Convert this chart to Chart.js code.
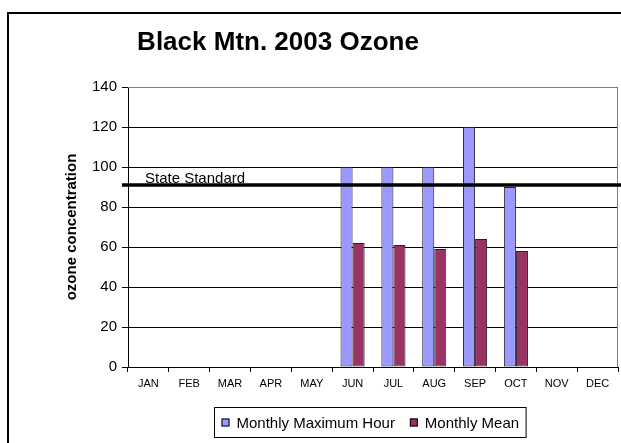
<!DOCTYPE html>
<html>
<head>
<meta charset="utf-8">
<script src="https://cdn.jsdelivr.net/npm/chart.js@4.4.1/dist/chart.umd.min.js"></script>
<style>
html, body { margin: 0; padding: 0; background: #fff; overflow: hidden; }
#wrap { position: relative; width: 621px; height: 443px; }
#frame { position: absolute; left: 7px; top: 12px; width: 700px; height: 500px; border-left: 2px solid #000; border-top: 2px solid #000; }
canvas { position: absolute; left: 0; top: 0; }
</style>
</head>
<body>
<div id="wrap">
  <div id="frame"></div>
  <canvas id="ozoneChart" width="621" height="443"></canvas>
</div>
<script>
const months = ['JAN', 'FEB', 'MAR', 'APR', 'MAY', 'JUN', 'JUL', 'AUG', 'SEP', 'OCT', 'NOV', 'DEC'];
const maxHour = [null, null, null, null, null, 100, 100, 100, 120, 90, null, null];
const monthlyMean = [null, null, null, null, null, 62, 61, 59, 64, 58, null, null];
const stateStandard = 91;
const yMax = 140;
const yStep = 20;

const chartTitle = 'Black Mtn. 2003 Ozone';
const yTitle = 'ozone concentration';
const standardLabel = 'State Standard';

const FONT = 'Arial, "Liberation Sans", sans-serif';

// title sits left of centre in the original, so draw it ourselves
const titlePlugin = {
    id: 'titlePlugin',
    afterDraw(chart) {
        const ctx = chart.ctx;
        ctx.save();
        ctx.font = 'bold 26px ' + FONT;
        ctx.fillStyle = '#000';
        ctx.textAlign = 'center';
        ctx.textBaseline = 'middle';
        ctx.fillText(chartTitle, 278, 43);
        ctx.restore();
    }
};

const plotBorder = {
    id: 'plotBorder',
    beforeDatasetsDraw(chart) {
        const a = chart.chartArea;
        const ctx = chart.ctx;
        ctx.save();
        ctx.strokeStyle = '#808080';
        ctx.lineWidth = 1;
        ctx.beginPath();
        ctx.moveTo(a.left, a.top + 0.5);
        ctx.lineTo(a.right - 0.5, a.top + 0.5);
        ctx.lineTo(a.right - 0.5, a.bottom);
        ctx.stroke();
        ctx.restore();
    }
};

const standardLine = {
    id: 'standardLine',
    afterDatasetsDraw(chart) {
        const y = chart.scales.y.getPixelForValue(stateStandard);
        const ctx = chart.ctx;
        ctx.save();
        ctx.strokeStyle = '#000';
        ctx.lineWidth = 3.5;
        ctx.beginPath();
        ctx.moveTo(chart.chartArea.left - 6, y);
        ctx.lineTo(chart.width, y);
        ctx.stroke();
        ctx.font = '15px ' + FONT;
        ctx.fillStyle = '#000';
        ctx.textAlign = 'left';
        ctx.textBaseline = 'alphabetic';
        ctx.fillText(standardLabel, 145, y - 2.5);
        ctx.restore();
    }
};

const boxedLegend = {
    id: 'boxedLegend',
    afterDraw(chart) {
        const ctx = chart.ctx;
        const sets = chart.data.datasets;
        ctx.save();
        ctx.font = '15px ' + FONT;
        const sw = 8, gap = 7, between = 15, padX = 7;
        let total = 0;
        sets.forEach((ds, i) => {
            total += sw + gap + ctx.measureText(ds.label).width;
            if (i < sets.length - 1) total += between;
        });
        const boxW = total + padX * 2;
        const cx = 370;
        const boxX = Math.round(cx - boxW / 2) + 0.5;
        const boxY = 407.5, boxH = 30;
        ctx.strokeStyle = '#000';
        ctx.lineWidth = 1;
        ctx.strokeRect(boxX, boxY, boxW, boxH);
        let x = boxX + padX;
        const cy = boxY + boxH / 2;
        sets.forEach(ds => {
            ctx.fillStyle = ds.backgroundColor;
            ctx.fillRect(x, cy - sw / 2, sw, sw);
            ctx.strokeStyle = '#000';
            ctx.strokeRect(x + 0.5, cy - sw / 2 + 0.5, sw - 1, sw - 1);
            x += sw + gap;
            ctx.fillStyle = '#000';
            ctx.textBaseline = 'middle';
            ctx.fillText(ds.label, x, cy + 1);
            x += ctx.measureText(ds.label).width + between;
        });
        ctx.restore();
    }
};

const ctx = document.getElementById('ozoneChart').getContext('2d');

const chart = new Chart(ctx, {
    type: 'bar',
    data: {
        labels: months,
        datasets: [{
            label: 'Monthly Maximum Hour',
            data: maxHour,
            backgroundColor: '#9999ff',
            borderColor: '#222',
            borderWidth: 1,
            borderSkipped: false
        }, {
            label: 'Monthly Mean',
            data: monthlyMean,
            backgroundColor: '#993366',
            borderColor: '#222',
            borderWidth: 1,
            borderSkipped: false
        }]
    },
    options: {
        responsive: false,
        animation: false,
        categoryPercentage: 0.59,
        barPercentage: 1,
        layout: {
            padding: { left: 0, top: 87, right: 3, bottom: 0 }
        },
        plugins: {
            legend: { display: false },
            title: { display: false },
            tooltip: { enabled: false }
        },
        scales: {
            x: {
                offset: true,
                grid: {
                    offset: true,
                    drawOnChartArea: false,
                    drawTicks: true,
                    tickLength: 5,
                    color: '#000'
                },
                border: { color: '#000', width: 1 },
                ticks: {
                    color: '#000',
                    font: { family: FONT, size: 11 },
                    padding: 5,
                    maxRotation: 0,
                    autoSkip: false
                },
                afterFit(scale) { scale.height = 76; }
            },
            y: {
                min: 0,
                max: yMax,
                ticks: {
                    stepSize: yStep,
                    color: '#000',
                    font: { family: FONT, size: 15 },
                    padding: 5
                },
                grid: {
                    color: '#000',
                    tickLength: 6
                },
                border: { color: '#000', width: 1 },
                title: {
                    display: true,
                    text: yTitle,
                    color: '#000',
                    font: { family: FONT, size: 15, weight: 'bold' },
                    padding: { top: 63, bottom: 0 }
                },
                afterFit(scale) { scale.width = 128; }
            }
        }
    },
    plugins: [plotBorder, standardLine, titlePlugin, boxedLegend]
});
</script>
</body>
</html>
